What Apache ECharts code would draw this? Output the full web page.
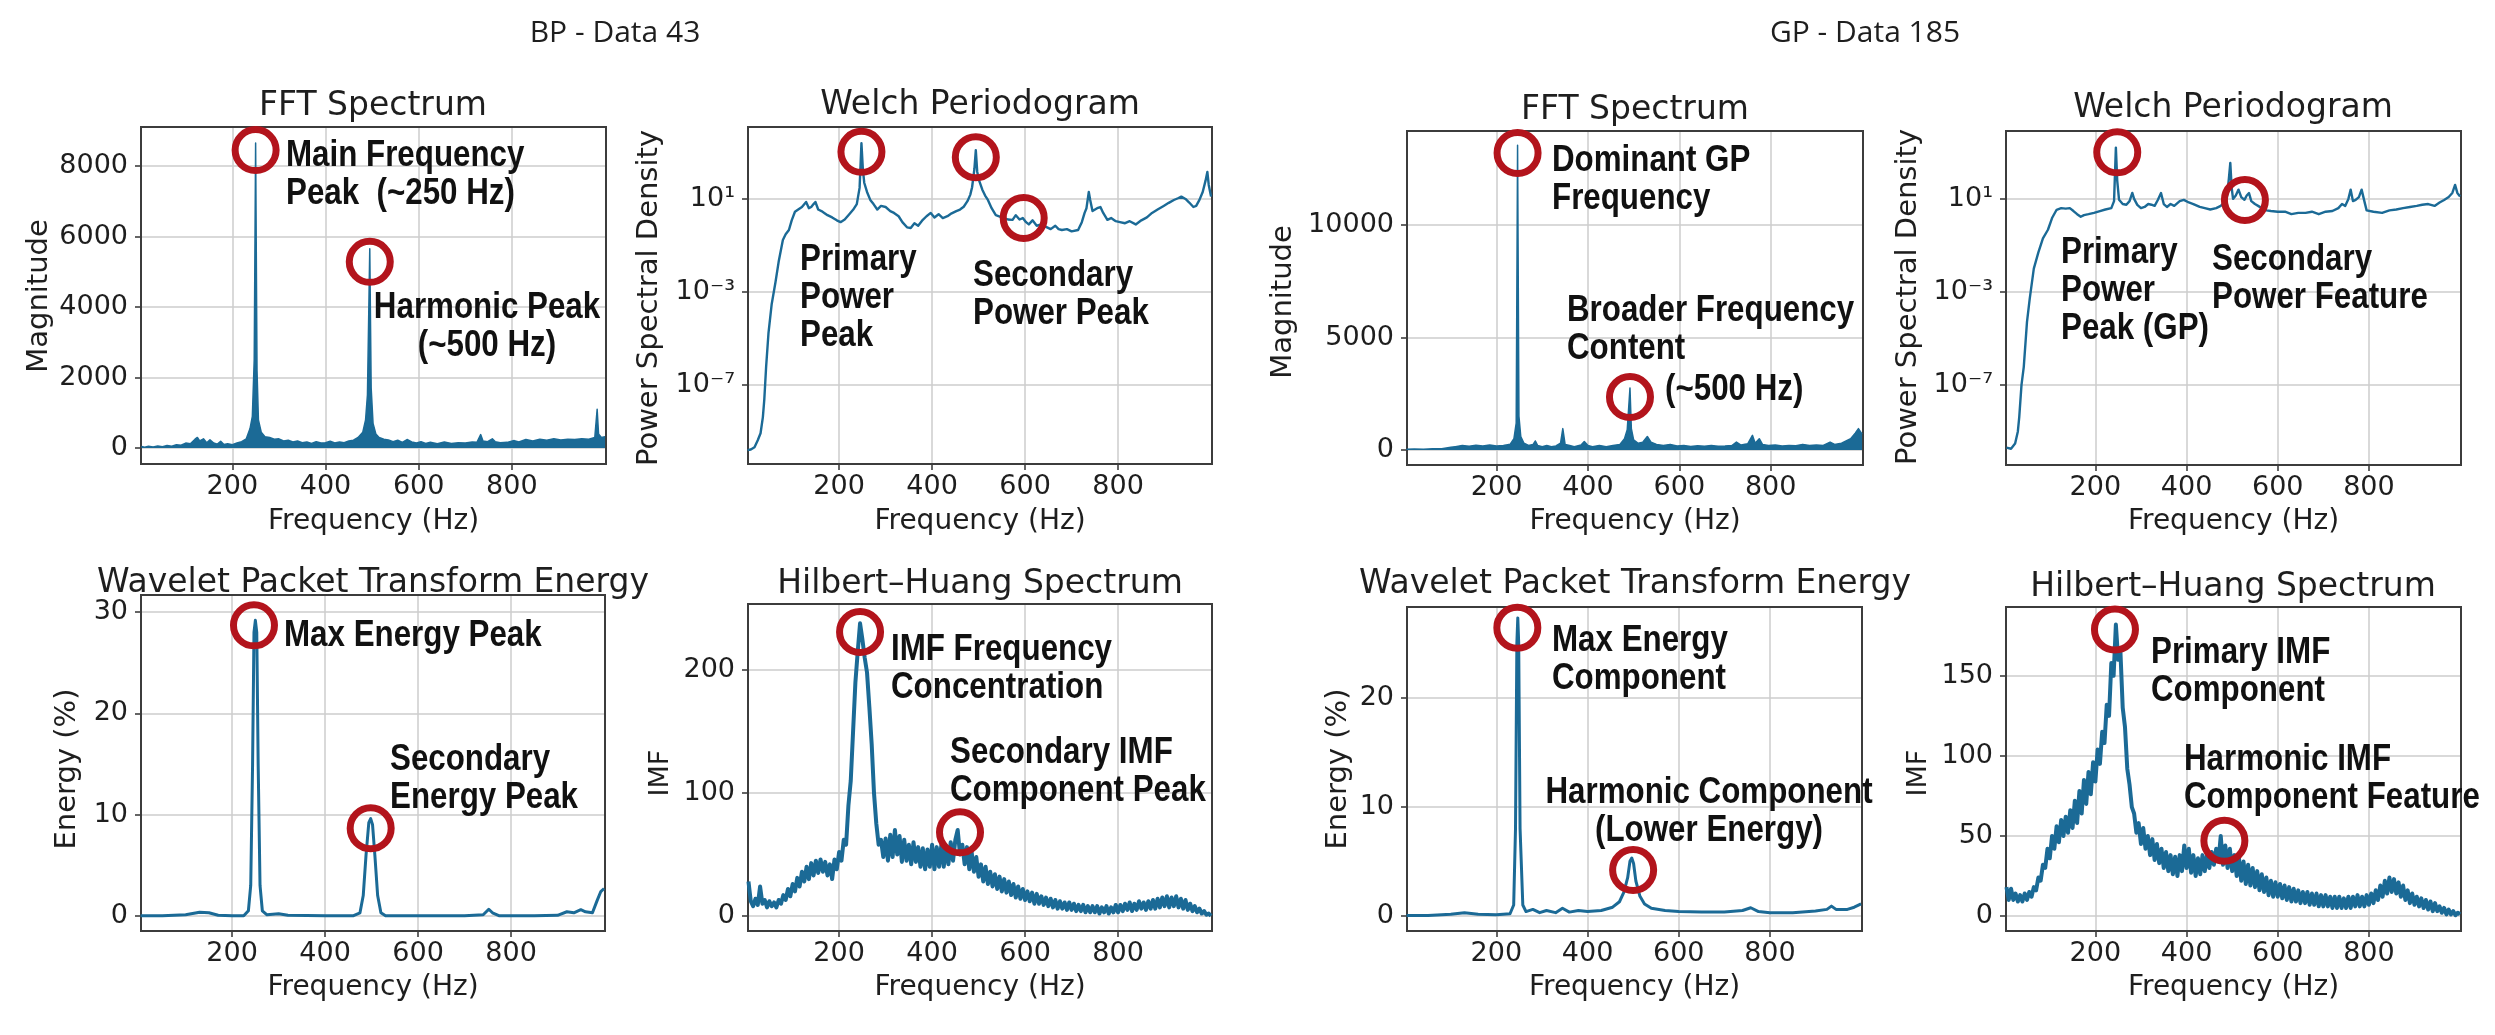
<!DOCTYPE html>
<html><head><meta charset="utf-8">
<script src="https://cdn.jsdelivr.net/npm/echarts/dist/echarts.min.js"></script>
<style>html,body{margin:0;padding:0;background:#fff}#c{width:2495px;height:1035px}</style>
</head><body><div id="c"></div>
<script>
// ---------- DATA ----------
const FREQ_TICKS = [200, 400, 600, 800];

// FFT Spectrum, BP - Data 43
const fftBpFreq = [5,12,20,30,40,50,60,70,80,90,100,110,120,125,130,138,145,152,160,168,175,182,190,200,210,220,230,238,243,247,250,253,256,262,270,280,290,300,310,320,330,340,350,360,370,380,390,400,410,420,430,440,450,460,470,480,486,490,495,498,502,508,515,525,535,545,555,565,575,585,595,605,615,625,640,655,670,685,700,715,725,733,738,748,758,764,775,790,805,815,830,845,860,875,890,905,920,935,950,965,978,983,986,992,1000];
const fftBpMag = [40,20,50,30,55,35,70,50,90,80,140,120,250,300,200,260,150,230,140,110,190,100,120,90,140,180,260,550,900,2500,8650,2200,800,450,320,300,250,260,200,220,170,200,150,170,130,180,140,150,190,140,170,150,200,220,300,450,800,1500,5650,1700,700,400,300,250,230,180,220,160,240,170,140,180,130,160,120,170,130,150,140,170,160,380,200,180,260,180,150,160,210,170,240,200,250,220,260,230,250,240,260,250,300,1100,400,300,320];
const fftBpTicks = [0, 2000, 4000, 6000, 8000];
const fftBpMarks = [[250, 8450], [495, 5280]];

// Welch Periodogram, BP - Data 43
const welchBpFreq = [3,10,18,25,31,36,39,43,48,55,63,70,79,85,92,98,105,112,120,129,135,140,145,149,155,162,168,175,185,195,203,212,220,230,238,244,248,251,254,260,267,274,282,290,300,310,318,328,336,346,354,362,370,380,388,397,405,414,423,433,442,452,460,468,476,482,486,491,494,497,501,508,514,520,528,537,547,556,563,573,580,588,595,602,608,616,625,635,645,655,665,672,679,690,700,714,722,728,732,737,740,745,749,755,762,768,777,785,795,804,815,825,838,850,862,873,885,898,909,920,930,936,945,953,962,968,975,982,988,992,995,998,1000];
const welchBpPsd = [1.5e-10,1.6e-10,2e-10,4e-10,8e-10,4e-9,2.2e-8,6e-7,1.6e-5,3e-4,2.5e-3,2e-2,0.17,0.3,0.46,1.2,2.8,3.5,4.5,7.4,4,4.5,6,7.4,3.5,3,2.5,2,1.6,1.2,1.0,1.3,2,3.4,6,30,2500,200,50,20,9.1,6,3.5,5,4.5,3,2.5,1.8,1,0.6,0.56,0.9,0.7,1.26,1.8,2.5,1.6,2.2,1.5,1.8,2.4,3,3.5,4.6,8,15,32,200,1260,150,63,25,14,9.1,4,2,1.7,1.5,1.3,1.26,2,1.3,1.5,1.0,0.8,1.2,0.7,0.8,0.63,0.5,0.7,0.5,0.46,0.5,0.4,0.46,1,2.5,4,20,9.1,3,2.5,4,4.5,2.5,1.26,1.5,1.1,1.0,0.9,1.1,0.8,1.2,1.6,2.5,3.5,5,6.8,9,11,12.6,10,7,4.5,5,9.1,20,60,145,40,20,12.6];
const psdTicks = [1e-7, 1e-3, 10];
const welchBpMarks = [[248, 1070], [494, 630], [597, 1.5]];

// FFT Spectrum, GP - Data 185
const fftGpFreq = [3,20,40,60,80,100,110,125,140,155,170,185,200,215,230,238,243,246,249,253,260,270,280,285,290,300,310,320,330,340,345,350,360,370,385,392,400,410,425,440,455,470,480,486,492,495,500,510,520,530,538,550,565,580,595,610,625,640,655,670,685,700,715,725,735,750,760,766,775,782,795,810,825,840,855,870,885,900,915,930,940,955,965,975,985,992,1000];
const fftGpMag = [30,40,30,50,60,120,150,200,170,210,180,220,180,200,260,500,1200,13550,1500,600,300,200,250,400,200,150,200,150,180,300,950,250,200,150,220,380,200,150,200,150,200,250,500,900,2750,950,450,300,350,600,350,250,200,250,180,200,160,190,170,200,170,180,200,350,220,280,650,300,500,250,200,220,180,200,190,250,200,220,200,350,250,300,400,500,750,950,700];
const fftGpTicks = [0, 5000, 10000];
const fftGpMarks = [[246, 13200], [492, 2355]];

// Welch Periodogram, GP - Data 185
const welchGpFreq = [5,15,24,30,33,38,43,50,56,65,75,85,96,105,115,125,135,144,152,160,168,175,185,197,210,222,235,241,245,248,252,260,268,275,281,285,292,300,308,316,323,330,337,344,350,357,365,373,385,394,405,415,429,440,452,465,475,483,488,493,496,499,502,508,514,520,527,532,537,542,550,557,565,575,585,600,616,630,645,661,675,690,705,720,733,741,748,755,760,765,771,778,784,790,795,810,829,845,860,875,890,905,917,930,944,955,965,975,983,989,994,1000];
const welchGpPsd = [2e-10,1.8e-10,3e-10,1e-9,4e-9,1e-7,6e-7,5e-5,5e-4,1e-2,5e-2,0.2,0.47,1.5,3.4,4,3.8,4,3,2.2,1.7,2,2.2,2.5,3,3.5,4,8,1600,60,9.1,6,5.6,8,18,10,5.5,4,4.5,6,5.6,5,9,17.8,6,4.5,6,5,8,9.1,7,6,4.5,4,3.5,4,5,7,9.1,80,350,30,10,14,25,12,9.1,14,17.8,8,6,5,4,3.2,3,2.8,2.8,2.2,2.5,2.5,2.8,2.2,2.8,3,4,6,5,10,25,8,9.1,12,25,8,3.2,2.8,2.5,3.2,3.5,4,4.5,5,5.6,6,5,7,9,12,18,40,18,12.6];
const welchGpMarks = [[248, 1000], [528, 9]];

// Wavelet Packet Transform Energy, BP
const wptBpFreq = [3,50,100,130,150,170,200,225,235,240,244,247,250,253,256,260,265,275,300,320,400,460,475,482,488,494,498,502,507,513,520,530,600,700,740,752,760,775,850,900,920,935,950,960,975,985,993,1000];
const wptBpEnergy = [0,0,0.1,0.35,0.3,0.05,0,0,0.5,3,15,28,29.2,28,15,3,0.5,0.1,0.2,0.05,0,0,0.3,2,6,9.2,9.6,9,6,2,0.3,0,0,0,0.1,0.65,0.3,0,0,0.05,0.4,0.3,0.6,0.4,0.3,1.5,2.4,2.7];
const wptBpTicks = [0, 10, 20, 30];
const wptBpMarks = [[247, 28.7], [498, 8.65]];

// Wavelet Packet Transform Energy, GP
const wptGpFreq = [3,50,100,130,160,200,230,238,242,245,247,249,252,258,265,280,295,310,330,345,360,380,400,430,455,470,480,488,493,497,501,506,515,525,540,570,600,650,700,740,758,775,800,850,900,925,935,945,970,985,1000];
const wptGpEnergy = [0.05,0.05,0.15,0.3,0.15,0.1,0.2,1,8,25,27.3,25,8,1,0.4,0.6,0.3,0.5,0.3,0.7,0.35,0.5,0.4,0.5,0.8,1.3,2.2,3.5,5,5.3,4.8,3.2,1.8,1.1,0.7,0.5,0.4,0.35,0.35,0.5,0.75,0.4,0.3,0.3,0.45,0.6,0.9,0.6,0.6,0.8,1.1];
const wptGpTicks = [0, 10, 20];
const wptGpMarks = [[246, 26.4], [500, 4.2]];

// Hilbert–Huang Spectrum (shared frequency bins)
const hhsFreq = [5,10,15,20,25,30,35,40,45,50,55,60,65,70,75,80,85,90,95,100,105,110,115,120,125,130,135,140,145,150,155,160,165,170,175,180,185,190,195,200,205,210,215,220,225,230,235,240,245,250,255,260,265,270,275,280,285,290,295,300,305,310,315,320,325,330,335,340,345,350,355,360,365,370,375,380,385,390,395,400,405,410,415,420,425,430,435,440,445,450,455,460,465,470,475,480,485,490,495,500,505,510,515,520,525,530,535,540,545,550,555,560,565,570,575,580,585,590,595,600,605,610,615,620,625,630,635,640,645,650,655,660,665,670,675,680,685,690,695,700,705,710,715,720,725,730,735,740,745,750,755,760,765,770,775,780,785,790,795,800,805,810,815,820,825,830,835,840,845,850,855,860,865,870,875,880,885,890,895,900,905,910,915,920,925,930,935,940,945,950,955,960,965,970,975,980,985,990,995,1000];
const hhsBpImf = [28,12,8,14,9,24,10,13,7,12,8,11,7,13,10,17,13,22,16,26,20,31,24,36,28,40,30,43,33,45,35,46,36,44,33,42,30,46,38,52,45,62,58,90,110,150,190,215,238,225,210,198,170,140,100,75,58,62,48,63,45,66,48,70,50,65,44,62,45,58,42,60,44,56,40,55,38,54,40,58,38,56,40,58,40,57,42,60,45,62,70,50,58,42,56,38,52,36,48,32,42,28,40,26,36,24,34,22,32,20,30,19,28,17,26,15,24,14,22,13,20,12,19,10,18,10,16,9,15,8,14,7,13,6,12,6,11,5,11,5,10,4,9,4,9,3,8,3,8,3,8,2,7,3,8,2,7,3,9,3,9,4,10,5,11,4,10,5,12,6,11,5,12,6,13,6,14,7,15,8,16,7,15,8,16,7,14,6,13,5,10,4,8,3,6,2,4,1,2,0];
const hhsGpImf = [18,10,17,10,14,9,13,9,14,10,15,12,18,16,24,22,32,30,42,36,50,42,56,46,60,50,62,52,66,55,72,58,78,64,85,70,90,76,96,84,104,95,115,108,132,125,158,150,182,160,165,130,118,92,82,68,64,52,58,45,55,42,50,38,48,35,45,33,42,30,40,28,38,26,37,25,38,28,44,30,42,27,38,25,36,26,38,28,38,30,40,32,42,34,50,32,44,30,42,28,38,25,36,22,34,20,32,19,30,18,28,16,26,15,24,13,22,12,21,12,20,11,19,10,18,9,17,9,16,8,15,8,15,7,14,7,14,6,13,6,13,6,12,5,12,5,12,5,11,5,12,5,12,6,13,6,12,6,13,7,14,8,16,10,19,12,22,14,24,15,23,14,21,12,19,10,16,8,14,7,12,6,11,5,10,4,9,3,8,3,6,2,5,1,4,1,3,0.5,2,1];
const hhsBpTicks = [0, 100, 200];
const hhsGpTicks = [0, 50, 100, 150];
const hhsBpMarks = [[245, 231], [460, 68]];
const hhsGpMarks = [[243, 179], [483, 47]];

// ---------- STYLE / LAYOUT ----------
const LINE = '#1b6a96';
const RING = '#b3141c';
const TXT = '#1e1e1e';
const SANS = '"DejaVu Sans", sans-serif';
const BOLD = '"Liberation Sans", Arial, sans-serif';
const SUP = {'-7': '10\u207B\u2077', '-3': '10\u207B\u00B3', '1': '10\u00B9'};

const panels = [
  {g:[141,127,465,337], title:'FFT Spectrum', tx:373, ty:106, yName:'Magnitude', yx:39, yy:296, xs:fftBpFreq, ys:fftBpMag, marks:fftBpMarks, min:-454, max:9106, ticks:fftBpTicks, area:true, lw:1.5},
  {g:[748,127,464,337], title:'Welch Periodogram', tx:980, ty:105, yName:'Power Spectral Density', yx:649, yy:298, xs:welchBpFreq, ys:welchBpPsd, marks:welchBpMarks, min:3.8e-11, max:1.26e4, ticks:psdTicks, log:true, lw:2.4},
  {g:[1407,131,456,334], title:'FFT Spectrum', tx:1635, ty:110, yName:'Magnitude', yx:1283, yy:302, xs:fftGpFreq, ys:fftGpMag, marks:fftGpMarks, min:-667, max:14178, ticks:fftGpTicks, area:true, lw:1.5},
  {g:[2006,131,455,334], title:'Welch Periodogram', tx:2233, ty:108, yName:'Power Spectral Density', yx:1908, yy:297, xs:welchGpFreq, ys:welchGpPsd, marks:welchGpMarks, min:3.6e-11, max:8.3e3, ticks:psdTicks, log:true, lw:2.4},
  {g:[141,595,464,336], title:'Wavelet Packet Transform Energy', tx:373, ty:583, yName:'Energy (%)', yx:67, yy:769, xs:wptBpFreq, ys:wptBpEnergy, marks:wptBpMarks, min:-1.5, max:31.7, ticks:wptBpTicks, lw:3},
  {g:[748,604,464,327], title:'Hilbert\u2013Huang Spectrum', tx:980, ty:584, yName:'IMF', yx:661, yy:773, xs:hhsFreq, ys:hhsBpImf, marks:hhsBpMarks, min:-12.2, max:253.7, ticks:hhsBpTicks, lw:4},
  {g:[1407,607,455,324], title:'Wavelet Packet Transform Energy', tx:1635, ty:584, yName:'Energy (%)', yx:1338, yy:769, xs:wptGpFreq, ys:wptGpEnergy, marks:wptGpMarks, min:-1.38, max:28.3, ticks:wptGpTicks, lw:3},
  {g:[2006,607,455,324], title:'Hilbert\u2013Huang Spectrum', tx:2233, ty:587, yName:'IMF', yx:1919, yy:773, xs:hhsFreq, ys:hhsGpImf, marks:hhsGpMarks, min:-9.4, max:193, ticks:hhsGpTicks, lw:4}
];

const notes = [
  {text:'Main Frequency\nPeak  (~250 Hz)', x:286, y:137},
  {text:'Harmonic Peak\n(~500 Hz)', x:487, y:289, align:'center'},
  {text:'Primary\nPower\nPeak', x:800, y:241},
  {text:'Secondary\nPower Peak', x:973, y:257},
  {text:'Dominant GP\nFrequency', x:1552, y:142},
  {text:'Broader Frequency\nContent', x:1567, y:292},
  {text:'(~500 Hz)', x:1665, y:371},
  {text:'Primary\nPower\nPeak (GP)', x:2061, y:234},
  {text:'Secondary\nPower Feature', x:2212, y:241},
  {text:'Max Energy Peak', x:284, y:617},
  {text:'Secondary\nEnergy Peak', x:390, y:741},
  {text:'IMF Frequency\nConcentration', x:891, y:631},
  {text:'Secondary IMF\nComponent Peak', x:950, y:734},
  {text:'Max Energy\nComponent', x:1552, y:622},
  {text:'Harmonic Component\n(Lower Energy)', x:1709, y:774, align:'center'},
  {text:'Primary IMF\nComponent', x:2151, y:634},
  {text:'Harmonic IMF\nComponent Feature', x:2184, y:741}
];

// ---------- OPTION ----------
const tickStyle = {show:true, inside:false, length:6, lineStyle:{color:'#333', width:1.5}};
const splitStyle = {show:true, lineStyle:{color:'#cccccc', width:1.5}};
const labelBase = {fontFamily:SANS, fontSize:27, color:TXT};

const option = {
  backgroundColor:'#ffffff',
  animation:false,
  grid: panels.map(p => ({left:p.g[0], top:p.g[1], width:p.g[2], height:p.g[3], show:true,
    borderColor:'#3c3c3c', borderWidth:2, backgroundColor:'rgba(0,0,0,0)', z:3})),
  xAxis: panels.map((p,i) => ({type:'value', gridIndex:i, min:4, max:1002,
    axisLine:{show:false, onZero:false},
    axisTick:Object.assign({customValues:FREQ_TICKS}, tickStyle),
    axisLabel:Object.assign({customValues:FREQ_TICKS, margin:9, formatter:v => String(v)}, labelBase),
    splitLine:splitStyle})),
  yAxis: panels.map((p,i) => ({type:p.log ? 'log' : 'value', logBase:10, gridIndex:i, min:p.min, max:p.max,
    axisLine:{show:false, onZero:false},
    axisTick:Object.assign({customValues:p.ticks}, tickStyle),
    axisLabel:Object.assign({customValues:p.ticks, margin:13,
      formatter: p.log ? (v => SUP[String(Math.round(Math.log10(v)))] || '') : (v => String(v))}, labelBase),
    splitLine:splitStyle})),
  series: [],
  graphic: []
};

panels.forEach((p,i) => {
  option.series.push({type:'line', xAxisIndex:i, yAxisIndex:i, data:p.xs.map((x,k) => [x, p.ys[k]]),
    symbol:'none', showSymbol:false, lineStyle:{color:LINE, width:p.lw, join:'round'}, itemStyle:{color:LINE},
    areaStyle: p.area ? {color:LINE, opacity:1} : null, z:4, silent:true});
  option.series.push({type:'scatter', xAxisIndex:i, yAxisIndex:i, data:p.marks, symbol:'circle',
    symbolSize:41, itemStyle:{color:'rgba(0,0,0,0)', borderColor:RING, borderWidth:7, opacity:1}, z:6, silent:true});
  option.graphic.push({type:'text', x:p.tx, y:p.ty, z:50, style:{text:p.title, fontFamily:SANS, fontSize:33, fill:TXT, align:'center', verticalAlign:'middle'}});
  option.graphic.push({type:'text', x:p.yx, y:p.yy, rotation:Math.PI/2, z:50, style:{text:p.yName, fontFamily:SANS, fontSize:p.yName === 'IMF' ? 27 : 29, fill:TXT, align:'center', verticalAlign:'middle'}});
  option.graphic.push({type:'text', x:p.g[0] + p.g[2]/2, y:(i < 4 ? 522 : 988), z:50, style:{text:'Frequency (Hz)', fontFamily:SANS, fontSize:28, fill:TXT, align:'center', verticalAlign:'middle'}});
});

notes.forEach(n => option.graphic.push({type:'text', x:n.x, y:n.y, scaleX:0.87, scaleY:1, z:60,
  style:{text:n.text, fontFamily:BOLD, fontWeight:'bold', fontSize:36, lineHeight:38, fill:'#111', align:n.align || 'left', verticalAlign:'top'}}));

option.graphic.push({type:'text', x:615, y:33, z:60, style:{text:'BP - Data 43', fontFamily:'"Open Sans", sans-serif', fontSize:30, fill:TXT, align:'center', verticalAlign:'middle'}});
option.graphic.push({type:'text', x:1865, y:33, z:60, style:{text:'GP - Data 185', fontFamily:'"Open Sans", sans-serif', fontSize:30, fill:TXT, align:'center', verticalAlign:'middle'}});

const chart = echarts.init(document.getElementById('c'), null, {renderer:'canvas', width:2495, height:1035});
chart.setOption(option);
</script></body></html>
